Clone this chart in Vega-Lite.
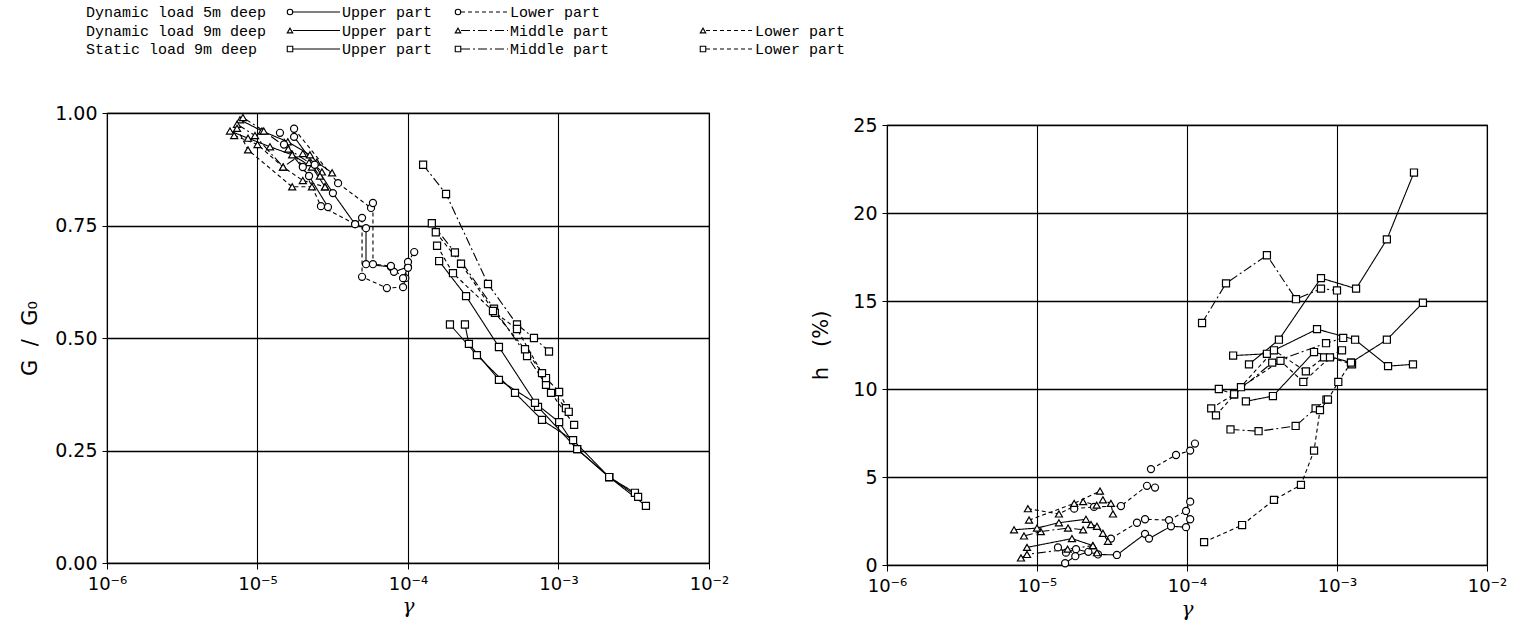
{
"$schema": "https://vega.github.io/schema/vega-lite/v6.json",
"background": "white",
"padding": {"left": 19, "top": 0, "right": 0, "bottom": 0},
"config": {"view": {"stroke": "black", "strokeWidth": 1.2}, "font": "DejaVu Sans"},
"datasets": {
"groups": [
{"load": "D5", "label": "Dynamic load 5m deep"},
{"load": "D9", "label": "Dynamic load 9m deep"},
{"load": "S9", "label": "Static load 9m deep"}
],
"legend": [
{"load": "D5", "slot": 1, "part": "Upper", "pl": "Upper part"},
{"load": "D5", "slot": 2, "part": "Lower", "pl": "Lower part"},
{"load": "D9", "slot": 1, "part": "Upper", "pl": "Upper part"},
{"load": "D9", "slot": 2, "part": "Middle", "pl": "Middle part"},
{"load": "D9", "slot": 3, "part": "Lower", "pl": "Lower part"},
{"load": "S9", "slot": 1, "part": "Upper", "pl": "Upper part"},
{"load": "S9", "slot": 2, "part": "Middle", "pl": "Middle part"},
{"load": "S9", "slot": 3, "part": "Lower", "pl": "Lower part"}
],
"G": [
{"id":"TU1","load":"D9","part":"Upper","k":1,"g":6.56e-6,"v":0.960},
{"id":"TU1","load":"D9","part":"Upper","k":2,"g":8.65e-6,"v":0.944},
{"id":"TU1","load":"D9","part":"Upper","k":3,"g":1.21e-5,"v":0.925},
{"id":"TU1","load":"D9","part":"Upper","k":4,"g":1.7e-5,"v":0.907},
{"id":"TU1","load":"D9","part":"Upper","k":5,"g":2.3e-5,"v":0.880},
{"id":"TU1","load":"D9","part":"Upper","k":6,"g":2.81e-5,"v":0.836},
{"id":"TU2","load":"D9","part":"Upper","k":1,"g":7.65e-6,"v":0.985},
{"id":"TU2","load":"D9","part":"Upper","k":2,"g":1.07e-5,"v":0.960},
{"id":"TU2","load":"D9","part":"Upper","k":3,"g":1.59e-5,"v":0.936},
{"id":"TU2","load":"D9","part":"Upper","k":4,"g":2.23e-5,"v":0.907},
{"id":"TU2","load":"D9","part":"Upper","k":5,"g":2.48e-5,"v":0.891},
{"id":"TU2","load":"D9","part":"Upper","k":6,"g":3.13e-5,"v":0.867},
{"id":"TM1","load":"D9","part":"Middle","k":1,"g":7.31e-6,"v":0.975},
{"id":"TM1","load":"D9","part":"Middle","k":2,"g":9.62e-6,"v":0.950},
{"id":"TM1","load":"D9","part":"Middle","k":3,"g":1.48e-5,"v":0.880},
{"id":"TM1","load":"D9","part":"Middle","k":4,"g":2.0e-5,"v":0.910},
{"id":"TM1","load":"D9","part":"Middle","k":5,"g":2.68e-5,"v":0.869},
{"id":"TM2","load":"D9","part":"Middle","k":1,"g":8.0e-6,"v":0.990},
{"id":"TM2","load":"D9","part":"Middle","k":2,"g":1.1e-5,"v":0.960},
{"id":"TM2","load":"D9","part":"Middle","k":3,"g":1.6e-5,"v":0.920},
{"id":"TM2","load":"D9","part":"Middle","k":4,"g":2.2e-5,"v":0.890},
{"id":"TM2","load":"D9","part":"Middle","k":5,"g":2.6e-5,"v":0.860},
{"id":"TL1","load":"D9","part":"Lower","k":1,"g":7.31e-6,"v":0.966},
{"id":"TL1","load":"D9","part":"Lower","k":2,"g":8.65e-6,"v":0.918},
{"id":"TL1","load":"D9","part":"Lower","k":3,"g":1.7e-5,"v":0.836},
{"id":"TL1","load":"D9","part":"Lower","k":4,"g":2.3e-5,"v":0.836},
{"id":"TL2","load":"D9","part":"Lower","k":1,"g":7.0e-6,"v":0.950},
{"id":"TL2","load":"D9","part":"Lower","k":2,"g":1.0e-5,"v":0.930},
{"id":"TL2","load":"D9","part":"Lower","k":3,"g":1.48e-5,"v":0.880},
{"id":"TL2","load":"D9","part":"Lower","k":4,"g":2.0e-5,"v":0.850},
{"id":"TL2","load":"D9","part":"Lower","k":5,"g":2.81e-5,"v":0.836},
{"id":"CU1","load":"D5","part":"Upper","k":1,"g":1.75e-5,"v":0.947},
{"id":"CU1","load":"D5","part":"Upper","k":2,"g":2.4e-5,"v":0.885},
{"id":"CU1","load":"D5","part":"Upper","k":3,"g":3.17e-5,"v":0.822},
{"id":"CU1","load":"D5","part":"Upper","k":4,"g":4.45e-5,"v":0.753},
{"id":"CU1","load":"D5","part":"Upper","k":5,"g":5.26e-5,"v":0.744},
{"id":"CU1","load":"D5","part":"Upper","k":6,"g":5.26e-5,"v":0.664},
{"id":"CU1","load":"D5","part":"Upper","k":7,"g":7.7e-5,"v":0.658},
{"id":"CU1","load":"D5","part":"Upper","k":8,"g":8.07e-5,"v":0.647},
{"id":"CU1","load":"D5","part":"Upper","k":9,"g":1.0e-4,"v":0.658},
{"id":"CU2","load":"D5","part":"Upper","k":1,"g":1.5e-5,"v":0.930},
{"id":"CU2","load":"D5","part":"Upper","k":2,"g":2.2e-5,"v":0.860},
{"id":"CU2","load":"D5","part":"Upper","k":3,"g":2.94e-5,"v":0.791},
{"id":"CL1","load":"D5","part":"Lower","k":1,"g":1.41e-5,"v":0.956},
{"id":"CL1","load":"D5","part":"Lower","k":2,"g":2.0e-5,"v":0.880},
{"id":"CL1","load":"D5","part":"Lower","k":3,"g":2.64e-5,"v":0.793},
{"id":"CL1","load":"D5","part":"Lower","k":4,"g":4.45e-5,"v":0.753},
{"id":"CL1","load":"D5","part":"Lower","k":5,"g":4.95e-5,"v":0.767},
{"id":"CL1","load":"D5","part":"Lower","k":6,"g":4.95e-5,"v":0.636},
{"id":"CL1","load":"D5","part":"Lower","k":7,"g":7.24e-5,"v":0.611},
{"id":"CL1","load":"D5","part":"Lower","k":8,"g":9.27e-5,"v":0.613},
{"id":"CL1","load":"D5","part":"Lower","k":9,"g":9.6e-5,"v":0.633},
{"id":"CL1","load":"D5","part":"Lower","k":10,"g":1.0e-4,"v":0.669},
{"id":"CL1","load":"D5","part":"Lower","k":11,"g":1.1e-4,"v":0.691},
{"id":"CL2","load":"D5","part":"Lower","k":1,"g":1.75e-5,"v":0.965},
{"id":"CL2","load":"D5","part":"Lower","k":2,"g":3.43e-5,"v":0.844},
{"id":"CL2","load":"D5","part":"Lower","k":3,"g":5.68e-5,"v":0.789},
{"id":"CL2","load":"D5","part":"Lower","k":4,"g":5.85e-5,"v":0.800},
{"id":"CL2","load":"D5","part":"Lower","k":5,"g":5.85e-5,"v":0.664},
{"id":"CL2","load":"D5","part":"Lower","k":6,"g":7.7e-5,"v":0.660},
{"id":"CL2","load":"D5","part":"Lower","k":7,"g":9.27e-5,"v":0.633},
{"id":"CL2","load":"D5","part":"Lower","k":8,"g":1.0e-4,"v":0.656},
{"id":"SM1","load":"S9","part":"Middle","k":1,"g":1.26e-4,"v":0.885},
{"id":"SM1","load":"S9","part":"Middle","k":2,"g":1.79e-4,"v":0.820},
{"id":"SM1","load":"S9","part":"Middle","k":3,"g":3.40e-4,"v":0.620},
{"id":"SM1","load":"S9","part":"Middle","k":4,"g":5.30e-4,"v":0.530},
{"id":"SM1","load":"S9","part":"Middle","k":5,"g":6.87e-4,"v":0.500},
{"id":"SM1","load":"S9","part":"Middle","k":6,"g":8.65e-4,"v":0.470},
{"id":"SM2","load":"S9","part":"Middle","k":1,"g":1.44e-4,"v":0.755},
{"id":"SM2","load":"S9","part":"Middle","k":2,"g":2.05e-4,"v":0.690},
{"id":"SM2","load":"S9","part":"Middle","k":3,"g":3.73e-4,"v":0.565},
{"id":"SM2","load":"S9","part":"Middle","k":4,"g":6.18e-4,"v":0.460},
{"id":"SM2","load":"S9","part":"Middle","k":5,"g":8.26e-4,"v":0.396},
{"id":"SM2","load":"S9","part":"Middle","k":6,"g":1.12e-3,"v":0.344},
{"id":"SL1","load":"S9","part":"Lower","k":1,"g":1.53e-4,"v":0.735},
{"id":"SL1","load":"S9","part":"Lower","k":2,"g":2.25e-4,"v":0.665},
{"id":"SL1","load":"S9","part":"Lower","k":3,"g":3.78e-4,"v":0.556},
{"id":"SL1","load":"S9","part":"Lower","k":4,"g":5.99e-4,"v":0.475},
{"id":"SL1","load":"S9","part":"Lower","k":5,"g":8.26e-4,"v":0.411},
{"id":"SL1","load":"S9","part":"Lower","k":6,"g":1.01e-3,"v":0.380},
{"id":"SL1","load":"S9","part":"Lower","k":7,"g":1.17e-3,"v":0.336},
{"id":"SL2","load":"S9","part":"Lower","k":1,"g":1.56e-4,"v":0.705},
{"id":"SL2","load":"S9","part":"Lower","k":2,"g":1.99e-4,"v":0.644},
{"id":"SL2","load":"S9","part":"Lower","k":3,"g":3.67e-4,"v":0.560},
{"id":"SL2","load":"S9","part":"Lower","k":4,"g":5.30e-4,"v":0.520},
{"id":"SL2","load":"S9","part":"Lower","k":5,"g":7.77e-4,"v":0.422},
{"id":"SL2","load":"S9","part":"Lower","k":6,"g":8.92e-4,"v":0.378},
{"id":"SL2","load":"S9","part":"Lower","k":7,"g":1.27e-3,"v":0.307},
{"id":"SU1","load":"S9","part":"Upper","k":1,"g":1.61e-4,"v":0.671},
{"id":"SU1","load":"S9","part":"Upper","k":2,"g":2.43e-4,"v":0.593},
{"id":"SU1","load":"S9","part":"Upper","k":3,"g":4.02e-4,"v":0.480},
{"id":"SU1","load":"S9","part":"Upper","k":4,"g":7.31e-4,"v":0.347},
{"id":"SU1","load":"S9","part":"Upper","k":5,"g":1.33e-3,"v":0.253},
{"id":"SU1","load":"S9","part":"Upper","k":6,"g":2.17e-3,"v":0.191},
{"id":"SU1","load":"S9","part":"Upper","k":7,"g":3.22e-3,"v":0.156},
{"id":"SU2","load":"S9","part":"Upper","k":1,"g":1.90e-4,"v":0.530},
{"id":"SU2","load":"S9","part":"Upper","k":2,"g":2.87e-4,"v":0.462},
{"id":"SU2","load":"S9","part":"Upper","k":3,"g":5.14e-4,"v":0.378},
{"id":"SU2","load":"S9","part":"Upper","k":4,"g":7.77e-4,"v":0.318},
{"id":"SU2","load":"S9","part":"Upper","k":5,"g":1.25e-3,"v":0.273},
{"id":"SU2","load":"S9","part":"Upper","k":6,"g":2.17e-3,"v":0.191},
{"id":"SU2","load":"S9","part":"Upper","k":7,"g":3.81e-3,"v":0.127},
{"id":"SU3","load":"S9","part":"Upper","k":1,"g":2.39e-4,"v":0.530},
{"id":"SU3","load":"S9","part":"Upper","k":2,"g":2.54e-4,"v":0.487},
{"id":"SU3","load":"S9","part":"Upper","k":3,"g":4.02e-4,"v":0.407},
{"id":"SU3","load":"S9","part":"Upper","k":4,"g":6.98e-4,"v":0.356},
{"id":"SU3","load":"S9","part":"Upper","k":5,"g":1.01e-3,"v":0.313},
{"id":"SU3","load":"S9","part":"Upper","k":6,"g":1.33e-3,"v":0.253},
{"id":"SU3","load":"S9","part":"Upper","k":7,"g":2.17e-3,"v":0.191},
{"id":"SU3","load":"S9","part":"Upper","k":8,"g":3.38e-3,"v":0.147}
],
"H": [
{"id":"SM1","load":"S9","part":"Middle","k":1,"g":1.26e-4,"v":13.75},
{"id":"SM1","load":"S9","part":"Middle","k":2,"g":1.82e-4,"v":16.0},
{"id":"SM1","load":"S9","part":"Middle","k":3,"g":3.41e-4,"v":17.6},
{"id":"SM1","load":"S9","part":"Middle","k":4,"g":5.33e-4,"v":15.1},
{"id":"SM1","load":"S9","part":"Middle","k":5,"g":7.82e-4,"v":15.7},
{"id":"SM1","load":"S9","part":"Middle","k":6,"g":1.0e-3,"v":15.6},
{"id":"SM2","load":"S9","part":"Middle","k":1,"g":1.95e-4,"v":7.7},
{"id":"SM2","load":"S9","part":"Middle","k":2,"g":3.0e-4,"v":7.6},
{"id":"SM2","load":"S9","part":"Middle","k":3,"g":5.3e-4,"v":7.9},
{"id":"SM2","load":"S9","part":"Middle","k":4,"g":7.2e-4,"v":8.9},
{"id":"SM2","load":"S9","part":"Middle","k":5,"g":8.5e-4,"v":9.4},
{"id":"SM3","load":"S9","part":"Middle","k":1,"g":1.63e-4,"v":10.0},
{"id":"SM3","load":"S9","part":"Middle","k":2,"g":2.06e-4,"v":9.7},
{"id":"SM3","load":"S9","part":"Middle","k":3,"g":3.7e-4,"v":11.5},
{"id":"SM3","load":"S9","part":"Middle","k":4,"g":8.45e-4,"v":12.6},
{"id":"SM3","load":"S9","part":"Middle","k":5,"g":1.1e-3,"v":12.9},
{"id":"SU1","load":"S9","part":"Upper","k":1,"g":2.59e-4,"v":11.4},
{"id":"SU1","load":"S9","part":"Upper","k":2,"g":4.1e-4,"v":12.8},
{"id":"SU1","load":"S9","part":"Upper","k":3,"g":7.82e-4,"v":16.3},
{"id":"SU1","load":"S9","part":"Upper","k":4,"g":1.34e-3,"v":15.7},
{"id":"SU1","load":"S9","part":"Upper","k":5,"g":2.15e-3,"v":18.5},
{"id":"SU1","load":"S9","part":"Upper","k":6,"g":3.26e-3,"v":22.3},
{"id":"SU2","load":"S9","part":"Upper","k":1,"g":2.03e-4,"v":11.9},
{"id":"SU2","load":"S9","part":"Upper","k":2,"g":3.41e-4,"v":12.0},
{"id":"SU2","load":"S9","part":"Upper","k":3,"g":7.36e-4,"v":13.4},
{"id":"SU2","load":"S9","part":"Upper","k":4,"g":1.32e-3,"v":12.8},
{"id":"SU2","load":"S9","part":"Upper","k":5,"g":2.19e-3,"v":11.3},
{"id":"SU2","load":"S9","part":"Upper","k":6,"g":3.21e-3,"v":11.4},
{"id":"SU3","load":"S9","part":"Upper","k":1,"g":2.47e-4,"v":9.3},
{"id":"SU3","load":"S9","part":"Upper","k":2,"g":3.74e-4,"v":9.6},
{"id":"SU3","load":"S9","part":"Upper","k":3,"g":7.03e-4,"v":12.1},
{"id":"SU3","load":"S9","part":"Upper","k":4,"g":1.24e-3,"v":11.5},
{"id":"SU3","load":"S9","part":"Upper","k":5,"g":2.15e-3,"v":12.8},
{"id":"SU3","load":"S9","part":"Upper","k":6,"g":3.74e-3,"v":14.9},
{"id":"SL1","load":"S9","part":"Lower","k":1,"g":1.45e-4,"v":8.9},
{"id":"SL1","load":"S9","part":"Lower","k":2,"g":2.06e-4,"v":9.7},
{"id":"SL1","load":"S9","part":"Lower","k":3,"g":3.8e-4,"v":12.2},
{"id":"SL1","load":"S9","part":"Lower","k":4,"g":6.2e-4,"v":11.0},
{"id":"SL1","load":"S9","part":"Lower","k":5,"g":8.2e-4,"v":11.8},
{"id":"SL1","load":"S9","part":"Lower","k":6,"g":1.08e-3,"v":12.2},
{"id":"SL2","load":"S9","part":"Lower","k":1,"g":1.56e-4,"v":8.5},
{"id":"SL2","load":"S9","part":"Lower","k":2,"g":2.29e-4,"v":10.1},
{"id":"SL2","load":"S9","part":"Lower","k":3,"g":4.2e-4,"v":11.6},
{"id":"SL2","load":"S9","part":"Lower","k":4,"g":5.96e-4,"v":10.4},
{"id":"SL2","load":"S9","part":"Lower","k":5,"g":8.98e-4,"v":11.8},
{"id":"SL2","load":"S9","part":"Lower","k":6,"g":1.26e-3,"v":11.4},
{"id":"SL3","load":"S9","part":"Lower","k":1,"g":1.3e-4,"v":1.3},
{"id":"SL3","load":"S9","part":"Lower","k":2,"g":2.33e-4,"v":2.27},
{"id":"SL3","load":"S9","part":"Lower","k":3,"g":3.8e-4,"v":3.7},
{"id":"SL3","load":"S9","part":"Lower","k":4,"g":5.75e-4,"v":4.55},
{"id":"SL3","load":"S9","part":"Lower","k":5,"g":7.03e-4,"v":6.5},
{"id":"SL3","load":"S9","part":"Lower","k":6,"g":7.7e-4,"v":8.8},
{"id":"SL3","load":"S9","part":"Lower","k":7,"g":8.7e-4,"v":9.4},
{"id":"SL3","load":"S9","part":"Lower","k":8,"g":1.02e-3,"v":10.4},
{"id":"SL3","load":"S9","part":"Lower","k":9,"g":1.24e-3,"v":11.5},
{"id":"CL1","load":"D5","part":"Lower","k":1,"g":5.75e-5,"v":5.45},
{"id":"CL1","load":"D5","part":"Lower","k":2,"g":8.45e-5,"v":6.25},
{"id":"CL1","load":"D5","part":"Lower","k":3,"g":1.05e-4,"v":6.5},
{"id":"CL1","load":"D5","part":"Lower","k":4,"g":1.13e-4,"v":6.9},
{"id":"CL2","load":"D5","part":"Lower","k":1,"g":1.77e-5,"v":3.2},
{"id":"CL2","load":"D5","part":"Lower","k":2,"g":2.4e-5,"v":3.3},
{"id":"CL2","load":"D5","part":"Lower","k":3,"g":3.63e-5,"v":3.35},
{"id":"CL2","load":"D5","part":"Lower","k":4,"g":5.41e-5,"v":4.5},
{"id":"CL2","load":"D5","part":"Lower","k":5,"g":6.12e-5,"v":4.4},
{"id":"CL3","load":"D5","part":"Lower","k":1,"g":3.11e-5,"v":1.5},
{"id":"CL3","load":"D5","part":"Lower","k":2,"g":4.64e-5,"v":2.4},
{"id":"CL3","load":"D5","part":"Lower","k":3,"g":5.25e-5,"v":2.6},
{"id":"CL3","load":"D5","part":"Lower","k":4,"g":7.59e-5,"v":2.55},
{"id":"CL3","load":"D5","part":"Lower","k":5,"g":9.85e-5,"v":3.07},
{"id":"CL3","load":"D5","part":"Lower","k":6,"g":1.05e-4,"v":3.6},
{"id":"CU1","load":"D5","part":"Upper","k":1,"g":1.38e-5,"v":1.0},
{"id":"CU1","load":"D5","part":"Upper","k":2,"g":1.56e-5,"v":0.7},
{"id":"CU1","load":"D5","part":"Upper","k":3,"g":1.82e-5,"v":0.9},
{"id":"CU1","load":"D5","part":"Upper","k":4,"g":2.55e-5,"v":0.6},
{"id":"CU1","load":"D5","part":"Upper","k":5,"g":3.41e-5,"v":0.57},
{"id":"CU1","load":"D5","part":"Upper","k":6,"g":5.25e-5,"v":1.77},
{"id":"CU1","load":"D5","part":"Upper","k":7,"g":5.58e-5,"v":1.5},
{"id":"CU1","load":"D5","part":"Upper","k":8,"g":7.82e-5,"v":2.2},
{"id":"CU1","load":"D5","part":"Upper","k":9,"g":9.85e-5,"v":2.15},
{"id":"CU1","load":"D5","part":"Upper","k":10,"g":1.05e-4,"v":2.6},
{"id":"CU2","load":"D5","part":"Upper","k":1,"g":1.54e-5,"v":0.1},
{"id":"CU2","load":"D5","part":"Upper","k":2,"g":1.8e-5,"v":0.5},
{"id":"CU2","load":"D5","part":"Upper","k":3,"g":2.2e-5,"v":0.75},
{"id":"TL1","load":"D9","part":"Lower","k":1,"g":8.85e-6,"v":2.55},
{"id":"TL1","load":"D9","part":"Lower","k":2,"g":1.77e-5,"v":3.5},
{"id":"TL1","load":"D9","part":"Lower","k":3,"g":2.63e-5,"v":4.2},
{"id":"TL1","load":"D9","part":"Lower","k":4,"g":2.75e-5,"v":3.7},
{"id":"TL1","load":"D9","part":"Lower","k":5,"g":3.11e-5,"v":3.5},
{"id":"TL1","load":"D9","part":"Lower","k":6,"g":3.21e-5,"v":2.9},
{"id":"TL2","load":"D9","part":"Lower","k":1,"g":8.7e-6,"v":3.2},
{"id":"TL2","load":"D9","part":"Lower","k":2,"g":1.4e-5,"v":2.9},
{"id":"TL2","load":"D9","part":"Lower","k":3,"g":2.03e-5,"v":3.6},
{"id":"TL2","load":"D9","part":"Lower","k":4,"g":2.5e-5,"v":3.4},
{"id":"TM1","load":"D9","part":"Middle","k":1,"g":7.82e-6,"v":0.4},
{"id":"TM1","load":"D9","part":"Middle","k":2,"g":8.58e-6,"v":0.6},
{"id":"TM1","load":"D9","part":"Middle","k":3,"g":1.6e-5,"v":0.9},
{"id":"TM1","load":"D9","part":"Middle","k":4,"g":2.36e-5,"v":1.1},
{"id":"TM1","load":"D9","part":"Middle","k":5,"g":2.51e-5,"v":0.7},
{"id":"TM2","load":"D9","part":"Middle","k":1,"g":8.19e-6,"v":1.65},
{"id":"TM2","load":"D9","part":"Middle","k":2,"g":1.06e-5,"v":1.9},
{"id":"TM2","load":"D9","part":"Middle","k":3,"g":1.61e-5,"v":2.1},
{"id":"TM2","load":"D9","part":"Middle","k":4,"g":2.03e-5,"v":2.0},
{"id":"TU1","load":"D9","part":"Upper","k":1,"g":8.58e-6,"v":1.0},
{"id":"TU1","load":"D9","part":"Upper","k":2,"g":1.71e-5,"v":1.5},
{"id":"TU1","load":"D9","part":"Upper","k":3,"g":2.36e-5,"v":1.1},
{"id":"TU2","load":"D9","part":"Upper","k":1,"g":7.03e-6,"v":2.0},
{"id":"TU2","load":"D9","part":"Upper","k":2,"g":1.0e-5,"v":2.1},
{"id":"TU2","load":"D9","part":"Upper","k":3,"g":1.4e-5,"v":2.4},
{"id":"TU2","load":"D9","part":"Upper","k":4,"g":2.12e-5,"v":2.6},
{"id":"TU2","load":"D9","part":"Upper","k":5,"g":2.29e-5,"v":2.3},
{"id":"TU2","load":"D9","part":"Upper","k":6,"g":2.51e-5,"v":2.2},
{"id":"TU2","load":"D9","part":"Upper","k":7,"g":2.75e-5,"v":1.8},
{"id":"TU2","load":"D9","part":"Upper","k":8,"g":2.97e-5,"v":1.35}
]
},
"spacing": 45,
"vconcat": [
{
"width": 900, "height": 56,
"view": {"stroke": "transparent"},
"layer": [
{"data": {"name": "groups"},
 "mark": {"type": "text", "align": "left", "baseline": "middle", "font": "Liberation Mono", "fontSize": 15, "color": "black"},
 "encoding": {
  "x": {"datum": 0, "type": "quantitative", "scale": {"domain": [0, 1, 2, 3], "range": [-21, 183, 351, 596], "zero": false, "nice": false}, "axis": null},
  "y": {"field": "load", "type": "nominal", "scale": {"type": "point", "domain": ["D5", "D9", "S9"], "range": [11, 48], "padding": 0}, "axis": null},
  "text": {"field": "label"}}},
{"data": {"name": "legend"},
 "mark": {"type": "rule", "color": "black", "strokeWidth": 1.1, "xOffset": 3, "x2Offset": 50},
 "encoding": {
  "x": {"field": "slot", "type": "quantitative"},
  "x2": {"field": "slot"},
  "y": {"field": "load", "type": "nominal"},
  "strokeDash": {"field": "part", "type": "nominal", "scale": {"domain": ["Upper", "Middle", "Lower"], "range": [[1, 0], [9, 3, 2, 3], [4, 3]]}, "legend": null}}},
{"data": {"name": "legend"},
 "mark": {"type": "point", "filled": true, "fill": "white", "stroke": "black", "strokeWidth": 1.1, "size": 30, "opacity": 1},
 "encoding": {
  "x": {"field": "slot", "type": "quantitative"},
  "y": {"field": "load", "type": "nominal"},
  "shape": {"field": "load", "type": "nominal", "scale": {"domain": ["D5", "D9", "S9"], "range": ["circle", "triangle-up", "square"]}, "legend": null}}},
{"data": {"name": "legend"},
 "mark": {"type": "text", "align": "left", "baseline": "middle", "font": "Liberation Mono", "fontSize": 15, "color": "black", "dx": 52},
 "encoding": {
  "x": {"field": "slot", "type": "quantitative"},
  "y": {"field": "load", "type": "nominal"},
  "text": {"field": "pl"}}}
]
},
{
"spacing": 80,
"hconcat": [
{
"width": 602, "height": 450,
"data": {"name": "G"},
"encoding": {
 "x": {"field": "g", "type": "quantitative", "scale": {"type": "log", "domain": [1e-6, 1e-2], "nice": false},
  "axis": {"values": [1e-6, 1e-5, 1e-4, 1e-3, 1e-2], "labelExpr": "'10' + ['⁻⁶','⁻⁵','⁻⁴','⁻³','⁻²'][round(log(datum.value)/LN10)+6]", "grid": true, "gridColor": "black", "gridWidth": 1.1, "gridOpacity": 1, "domainColor": "black", "tickColor": "black", "tickSize": 6, "labelFont": "DejaVu Sans", "labelFontSize": 18, "labelColor": "black", "labelPadding": 6, "labelFlush": false, "labelOverlap": false, "title": "γ", "titleFont": "DejaVu Serif", "titleFontStyle": "italic", "titleFontWeight": "normal", "titleFontSize": 20, "titleColor": "black", "titlePadding": 3}},
 "y": {"field": "v", "type": "quantitative", "scale": {"domain": [0, 1], "nice": false, "zero": false},
  "axis": {"values": [0, 0.25, 0.5, 0.75, 1], "format": ".2f", "grid": true, "gridColor": "black", "gridWidth": 1.5, "gridOpacity": 1, "domainColor": "black", "tickColor": "black", "tickSize": 5, "labelFont": "DejaVu Sans", "labelFontSize": 19, "labelColor": "black", "labelPadding": 5, "labelFlush": false, "title": "G\u00a0\u00a0/\u00a0\u00a0G₀", "titleFont": "DejaVu Sans", "titleFontSize": 21, "titleFontWeight": "normal", "titleColor": "black", "titlePadding": 14}}
},
"layer": [
 {"mark": {"type": "line", "color": "black", "strokeWidth": 1.1},
  "encoding": {"detail": {"field": "id"}, "order": {"field": "k", "type": "quantitative"},
   "strokeDash": {"field": "part", "type": "nominal", "scale": {"domain": ["Upper", "Middle", "Lower"], "range": [[1, 0], [9, 3, 2, 3], [4, 3]]}, "legend": null}}},
 {"mark": {"type": "point", "filled": true, "fill": "white", "stroke": "black", "strokeWidth": 1.2, "size": 50, "opacity": 1},
  "encoding": {"shape": {"field": "load", "type": "nominal", "scale": {"domain": ["D5", "D9", "S9"], "range": ["circle", "triangle-up", "square"]}, "legend": null}}}
]
},
{
"spacing": 0,
"vconcat": [
{"width": 600, "height": 1, "view": {"stroke": "transparent"}, "data": {"values": []}, "mark": "point"},
{
"width": 600, "height": 440,
"data": {"name": "H"},
"encoding": {
 "x": {"field": "g", "type": "quantitative", "scale": {"type": "log", "domain": [1e-6, 1e-2], "nice": false},
  "axis": {"values": [1e-6, 1e-5, 1e-4, 1e-3, 1e-2], "labelExpr": "'10' + ['⁻⁶','⁻⁵','⁻⁴','⁻³','⁻²'][round(log(datum.value)/LN10)+6]", "grid": true, "gridColor": "black", "gridWidth": 1.1, "gridOpacity": 1, "domainColor": "black", "tickColor": "black", "tickSize": 6, "labelFont": "DejaVu Sans", "labelFontSize": 18, "labelColor": "black", "labelPadding": 6, "labelFlush": false, "labelOverlap": false, "title": "γ", "titleFont": "DejaVu Serif", "titleFontStyle": "italic", "titleFontWeight": "normal", "titleFontSize": 20, "titleColor": "black", "titlePadding": 4}},
 "y": {"field": "v", "type": "quantitative", "scale": {"domain": [0, 25], "nice": false, "zero": false},
  "axis": {"values": [0, 5, 10, 15, 20, 25], "format": "d", "grid": true, "gridColor": "black", "gridWidth": 1.5, "gridOpacity": 1, "domainColor": "black", "tickColor": "black", "tickSize": 5, "labelFont": "DejaVu Sans", "labelFontSize": 19, "labelColor": "black", "labelPadding": 5, "labelFlush": false, "title": "h\u00a0\u00a0\u00a0(%)", "titleFont": "DejaVu Sans", "titleFontSize": 21, "titleFontWeight": "normal", "titleColor": "black", "titlePadding": 21}}
},
"layer": [
 {"mark": {"type": "line", "color": "black", "strokeWidth": 1.1},
  "encoding": {"detail": {"field": "id"}, "order": {"field": "k", "type": "quantitative"},
   "strokeDash": {"field": "part", "type": "nominal", "scale": {"domain": ["Upper", "Middle", "Lower"], "range": [[1, 0], [9, 3, 2, 3], [4, 3]]}, "legend": null}}},
 {"mark": {"type": "point", "filled": true, "fill": "white", "stroke": "black", "strokeWidth": 1.2, "size": 50, "opacity": 1},
  "encoding": {"shape": {"field": "load", "type": "nominal", "scale": {"domain": ["D5", "D9", "S9"], "range": ["circle", "triangle-up", "square"]}, "legend": null}}}
]
}
]
}
]
}
]
}
